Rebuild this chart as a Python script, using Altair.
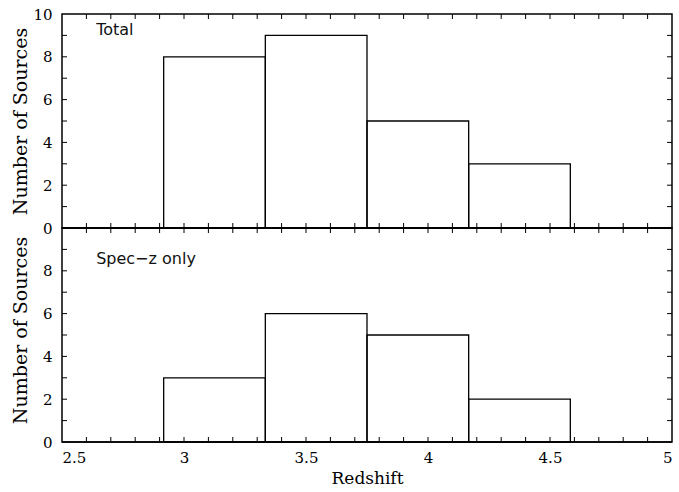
import altair as alt
import pandas as pd

# Histogram bins (redshift) and counts
bin_lo = [2.9167, 3.3333, 3.75, 4.1667]
bin_hi = [3.3333, 3.75, 4.1667, 4.5833]
total_counts = [8, 9, 5, 3]
specz_counts = [3, 6, 5, 2]

# Axis ticks / labels
x_label_vals = [2.5, 3.0, 3.5, 4.0, 4.5, 5.0]
x_minor = [2.6, 2.7, 2.8, 2.9, 3.0, 3.1, 3.2, 3.3, 3.4, 3.5, 3.6, 3.7, 3.8, 3.9,
           4.0, 4.1, 4.2, 4.3, 4.4, 4.5, 4.6, 4.7, 4.8, 4.9]
y_minor = [1, 2, 3, 4, 5, 6, 7, 8, 9]
top_y_labels = [0, 2, 4, 6, 8, 10]
bot_y_labels = [0, 2, 4, 6, 8]
panel_names = ["Total", "Spec\u2212z only"]
panel_text_x = [2.64, 2.64]
panel_text_y = [9.02, 8.32]

SERIF = "DejaVu Serif"
SANS = "DejaVu Sans"
W, H = 610, 214
TL = 5  # tick length in px

xscale = alt.Scale(domain=[2.5, 5.0], nice=False, zero=False)
yscale = alt.Scale(domain=[0, 10], nice=False, zero=True)


def make_panel(counts, name, tx, ty, ylabels, show_x, title_y):
    if show_x:
        xaxis = alt.Axis(values=x_label_vals, format="~g", ticks=False, tickSize=0,
                         domain=False, grid=False, labelFont=SERIF, labelFontSize=15,
                         labelColor="black", labelPadding=8, title="Redshift",
                         titleFont=SERIF, titleFontSize=17, titleFontWeight="normal",
                         titleColor="black", titlePadding=5)
    else:
        xaxis = None
    yaxis = alt.Axis(values=ylabels, format="d", ticks=False, tickSize=0, domain=False,
                     grid=False, labelFont=SERIF, labelFontSize=15, labelColor="black",
                     labelPadding=10, title="Number of Sources", titleFont=SERIF,
                     titleFontSize=19, titleFontWeight="normal", titleColor="black",
                     titleX=-36, titleY=title_y, titleBaseline="alphabetic")
    X = lambda f: alt.X(f, type="quantitative", scale=xscale, axis=xaxis, title="Redshift")
    Y = lambda f: alt.Y(f, type="quantitative", scale=yscale, axis=yaxis, title="Number of Sources")

    df = pd.DataFrame({"lo": bin_lo, "hi": bin_hi, "n": counts})
    bars = alt.Chart(df).mark_rect(filled=False, stroke="black", strokeWidth=1.3).encode(
        x=X("lo"), x2="hi", y=Y("n"), y2=alt.datum(0)
    )
    base = alt.Chart(pd.DataFrame({"a": [2.5], "b": [5.0], "z": [0]})).mark_rule(
        color="black", strokeWidth=1.5).encode(x=X("a"), x2="b", y=Y("z"))

    xt = pd.DataFrame({"xv": x_minor})
    xt_bot = alt.Chart(xt).mark_rule(color="black", strokeWidth=1).encode(
        x=X("xv"), y=alt.value(H), y2=alt.value(H - TL))
    xt_top = alt.Chart(xt).mark_rule(color="black", strokeWidth=1).encode(
        x=X("xv"), y=alt.value(0), y2=alt.value(TL))
    yt = pd.DataFrame({"yv": y_minor})
    yt_left = alt.Chart(yt).mark_rule(color="black", strokeWidth=1).encode(
        y=Y("yv"), x=alt.value(0), x2=alt.value(TL))
    yt_right = alt.Chart(yt).mark_rule(color="black", strokeWidth=1).encode(
        y=Y("yv"), x=alt.value(W), x2=alt.value(W - TL))

    txt = alt.Chart(pd.DataFrame({"tx": [tx], "ty": [ty], "t": [name]})).mark_text(
        align="left", baseline="alphabetic", font=SANS, fontSize=16,
        fill="#111111").encode(x=X("tx"), y=Y("ty"), text="t:N")

    return alt.layer(bars, base, xt_bot, xt_top, yt_left, yt_right, txt).properties(
        width=W, height=H)


top = make_panel(total_counts, panel_names[0], panel_text_x[0], panel_text_y[0],
                 top_y_labels, False, 107)
bottom = make_panel(specz_counts, panel_names[1], panel_text_x[1], panel_text_y[1],
                    bot_y_labels, True, 102)

chart = alt.vconcat(top, bottom, spacing=0, bounds="flush").configure_view(
    stroke="black", strokeWidth=1.5
).properties(
    padding={"left": 10, "top": 6, "right": 0, "bottom": 0},
    background="white",
)

chart.save("out.html", embed_options={"renderer": "svg", "actions": False})
